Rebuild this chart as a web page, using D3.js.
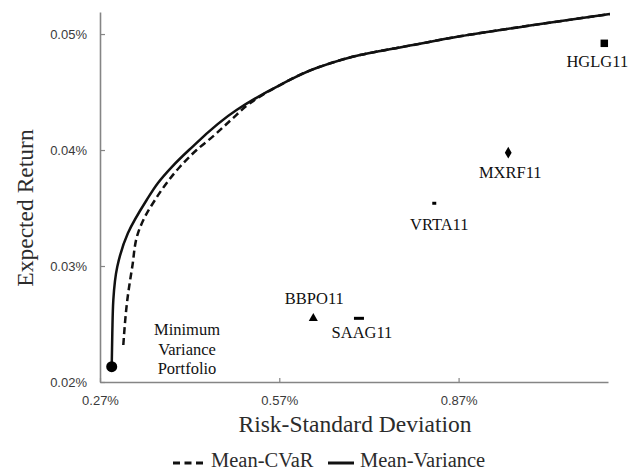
<!DOCTYPE html>
<html>
<head>
<meta charset="utf-8">
<script src="https://cdn.jsdelivr.net/npm/d3@7"></script>
<style>
  body { margin: 0; background: #fff; }
  svg { display: block; }
</style>
</head>
<body>
<script>
// efficient frontier data (risk %, return %)
const mvRisk = [0.2896, 0.2906, 0.2923, 0.2989, 0.3168, 0.3481, 0.3670, 0.3900, 0.4189, 0.4985, 0.5711, 0.6380, 0.7050, 0.7936, 0.8723, 0.9894, 1.1232];
const mvReturn = [0.02132, 0.02422, 0.02707, 0.02994, 0.03284, 0.03569, 0.03716, 0.03853, 0.04000, 0.04345, 0.04560, 0.04718, 0.04819, 0.04905, 0.04980, 0.05073, 0.05172];

const cvarRisk = [0.3090, 0.3157, 0.3240, 0.3336, 0.3453, 0.3620, 0.3816, 0.4038, 0.4316, 0.4591, 0.4900, 0.5200, 0.5711, 0.6380, 0.7050, 0.7936, 0.8723, 0.9894, 1.1232];
const cvarReturn = [0.02319, 0.02707, 0.02994, 0.03284, 0.03425, 0.03569, 0.03716, 0.03856, 0.04000, 0.04118, 0.04263, 0.04400, 0.04560, 0.04718, 0.04819, 0.04905, 0.04980, 0.05073, 0.05172];

// single assets
const assetNames = ["HGLG11", "MXRF11", "VRTA11", "BBPO11", "SAAG11"];
const assetRisk = [1.1138, 0.9531, 0.8293, 0.6269, 0.7033];
const assetReturn = [0.04920, 0.03977, 0.03541, 0.02549, 0.02549];

const xTicks = [0.27, 0.57, 0.87];
const yTicks = [0.02, 0.03, 0.04, 0.05];

const [w, h] = [632, 473];
const margin = { left: 100, right: 24, top: 12, bottom: 91 };

const svg = d3.select("body").append("svg")
    .attr("width", w)
    .attr("height", h);

// escalas
const xScale = d3.scaleLinear()
    .domain([0.27, 1.12])
    .range([margin.left, w - margin.right]);

const yScale = d3.scaleLinear()
    .domain([0.02, 0.0519])
    .range([h - margin.bottom, margin.top]);

const fmt = (d) => d.toFixed(2) + "%";

// ejes
const yAxis = d3.axisLeft(yScale)
    .tickValues(yTicks)
    .tickFormat(fmt)
    .tickSizeInner(-5)
    .tickSizeOuter(0)
    .tickPadding(13);

const xAxis = d3.axisBottom(xScale)
    .tickValues(xTicks)
    .tickFormat(fmt)
    .tickSizeInner(-4)
    .tickSizeOuter(0)
    .tickPadding(14);

const gy = svg.append("g")
    .attr("transform", "translate(" + margin.left + ",0)")
    .call(yAxis);

const gx = svg.append("g")
    .attr("transform", "translate(0," + (h - margin.bottom) + ")")
    .call(xAxis);

[gx, gy].forEach((g) => {
    g.select(".domain").attr("stroke", "#858585").attr("stroke-width", 1.6);
    g.selectAll(".tick line").attr("stroke", "#858585").attr("stroke-width", 1.2);
    g.selectAll(".tick text")
        .attr("fill", "#3a3a3a")
        .style("font-family", "'Liberation Sans', Arial, sans-serif")
        .style("font-size", "13px");
});

// titulos
svg.append("text")
    .attr("x", 355)
    .attr("y", 432)
    .attr("text-anchor", "middle")
    .style("font-family", "'Liberation Serif', 'Times New Roman', serif")
    .style("font-size", "23.5px")
    .attr("fill", "#2b2b2b")
    .text("Risk-Standard Deviation");

svg.append("text")
    .attr("transform", "translate(33,208) rotate(-90)")
    .attr("text-anchor", "middle")
    .style("font-family", "'Liberation Serif', 'Times New Roman', serif")
    .style("font-size", "23.5px")
    .attr("fill", "#2b2b2b")
    .text("Expected Return");

// curvas (x es función de y: curva monótona en y)
const line = d3.line()
    .x((d) => xScale(d[0]))
    .y((d) => yScale(d[1]))
    .curve(d3.curveMonotoneY);

svg.append("path")
    .datum(cvarRisk.map((r, i) => [r, cvarReturn[i]]))
    .attr("d", line)
    .attr("fill", "none")
    .attr("stroke", "#111")
    .attr("stroke-width", 2.5)
    .attr("stroke-dasharray", "7,4");

svg.append("path")
    .datum(mvRisk.map((r, i) => [r, mvReturn[i]]))
    .attr("d", line)
    .attr("fill", "none")
    .attr("stroke", "#111")
    .attr("stroke-width", 2.5);

// minimum variance portfolio
svg.append("circle")
    .attr("cx", xScale(mvRisk[0]))
    .attr("cy", yScale(mvReturn[0]))
    .attr("r", 5.5)
    .attr("fill", "#000");

const mvpLines = ["Minimum", "Variance", "Portfolio"];
svg.append("text")
    .attr("x", 187)
    .attr("y", 335)
    .attr("text-anchor", "middle")
    .style("font-family", "'Liberation Serif', 'Times New Roman', serif")
    .style("font-size", "16.5px")
    .attr("fill", "#111")
    .selectAll("tspan")
    .data(mvpLines)
    .enter()
    .append("tspan")
    .attr("x", 187)
    .attr("dy", (d, i) => i === 0 ? 0 : 19.5)
    .text((d) => d);

// activos
const assets = assetNames.map((n, i) => ({ name: n, x: xScale(assetRisk[i]), y: yScale(assetReturn[i]) }));

const sym = {
    HGLG11: d3.symbol().type(d3.symbolSquare).size(56),
    MXRF11: d3.symbol().type(d3.symbolDiamond).size(40),
    BBPO11: d3.symbol().type(d3.symbolTriangle).size(36)
};

assets.forEach((a) => {
    if (sym[a.name]) {
        svg.append("path")
            .attr("d", sym[a.name]())
            .attr("transform", "translate(" + a.x + "," + a.y + ")")
            .attr("fill", "#000");
    } else {
        const dw = a.name === "SAAG11" ? 10 : 4;
        svg.append("rect")
            .attr("x", a.x - dw / 2)
            .attr("y", a.y - 1.5)
            .attr("width", dw)
            .attr("height", 3)
            .attr("fill", "#000");
    }
});

// etiquetas (desplazamiento respecto al marcador)
const labelOffset = {
    HGLG11: [-7, 24],
    MXRF11: [2, 25],
    VRTA11: [5, 27],
    BBPO11: [1, -14],
    SAAG11: [3, 20]
};

svg.selectAll(".lbl")
    .data(assets)
    .enter()
    .append("text")
    .attr("class", "lbl")
    .attr("x", (d) => d.x + labelOffset[d.name][0])
    .attr("y", (d) => d.y + labelOffset[d.name][1])
    .attr("text-anchor", "middle")
    .style("font-family", "'Liberation Serif', 'Times New Roman', serif")
    .style("font-size", "16.5px")
    .attr("fill", "#111")
    .text((d) => d.name);

// leyenda
const legend = svg.append("g").attr("transform", "translate(0,463)");

legend.append("line")
    .attr("x1", 173).attr("x2", 206)
    .attr("y1", 0).attr("y2", 0)
    .attr("stroke", "#111")
    .attr("stroke-width", 3)
    .attr("stroke-dasharray", "7,4.5");

legend.append("text")
    .attr("x", 211)
    .attr("y", 4)
    .style("font-family", "'Liberation Serif', 'Times New Roman', serif")
    .style("font-size", "20.5px")
    .attr("fill", "#2b2b2b")
    .text("Mean-CVaR");

legend.append("line")
    .attr("x1", 328).attr("x2", 354)
    .attr("y1", 0).attr("y2", 0)
    .attr("stroke", "#111")
    .attr("stroke-width", 3);

legend.append("text")
    .attr("x", 360)
    .attr("y", 4)
    .style("font-family", "'Liberation Serif', 'Times New Roman', serif")
    .style("font-size", "20.5px")
    .attr("fill", "#2b2b2b")
    .text("Mean-Variance");
</script>
</body>
</html>
